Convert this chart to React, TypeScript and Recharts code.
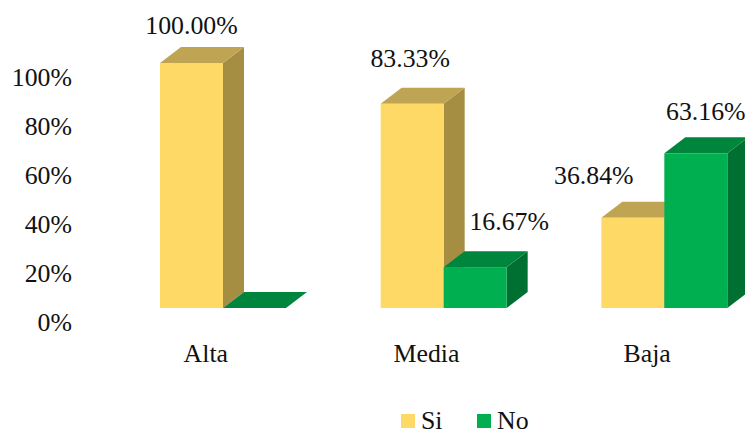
import React from 'react';
import { BarChart, Bar, XAxis, YAxis, LabelList, Legend } from 'recharts';

const categories = ['Alta', 'Media', 'Baja'];
const siValues = [100, 83.33, 36.84];
const noValues = [0, 16.67, 63.16];
const yTicks = [0, 20, 40, 60, 80, 100];

const chartData = categories.map((name, i) => ({ name, Si: siValues[i], No: noValues[i] }));

const FONT = '"Liberation Serif", serif';
const FONT_SIZE = 25.8;
const TEXT_COLOR = '#111111';
const DEPTH_X = 21;
const DEPTH_Y = 16;

const SI_COLORS = { front: '#FFD966', side: '#A58D42', top: '#BFA553' };
const NO_COLORS = { front: '#00B050', side: '#006F32', top: '#00863C' };

// hand placed data labels, offset from the top centre of each bar
const SI_LABEL_OFFSETS = [[0, -38], [-2, -45], [-39, -42]];
const NO_LABEL_OFFSETS = [[0, 0], [34, -46], [10, -42]];

const Box3D = ({ x, y, width, height, colors }: any) => {
  const right = x + width;
  const bottom = y + height;
  return (
    <g>
      <polygon
        points={`${right},${y} ${right + DEPTH_X},${y - DEPTH_Y} ${right + DEPTH_X},${bottom - DEPTH_Y} ${right},${bottom}`}
        fill={colors.side}
      />
      <polygon
        points={`${x},${y} ${x + DEPTH_X},${y - DEPTH_Y} ${right + DEPTH_X},${y - DEPTH_Y} ${right},${y}`}
        fill={colors.top}
      />
      <rect x={x} y={y} width={width} height={height} fill={colors.front} />
    </g>
  );
};

const barLabel = (offsets: number[][], hideZero: boolean) => (props: any) => {
  const { x, y, width, value, index } = props;
  if (hideZero && value === 0) return null;
  const [dx, dy] = offsets[index];
  return (
    <text
      x={x + width / 2 + dx}
      y={y + dy}
      textAnchor="middle"
      dominantBaseline="central"
      fontFamily={FONT}
      fontSize={FONT_SIZE}
      fill={TEXT_COLOR}
    >
      {`${Number(value).toFixed(2)}%`}
    </text>
  );
};

const YTick = ({ y, payload }: any) => (
  <text x={72} y={y + 14.5} textAnchor="end" dominantBaseline="central" fontFamily={FONT} fontSize={FONT_SIZE} fill={TEXT_COLOR}>
    {`${payload.value}%`}
  </text>
);

const XTick = ({ x, payload }: any) => (
  <text x={x - 17.5} y={353} textAnchor="middle" dominantBaseline="central" fontFamily={FONT} fontSize={FONT_SIZE} fill={TEXT_COLOR}>
    {payload.value}
  </text>
);

const LegendContent = () => (
  <div style={{ position: 'relative', width: 140, height: 25, fontFamily: FONT, fontSize: FONT_SIZE, color: TEXT_COLOR }}>
    <span style={{ position: 'absolute', left: 0, top: 7, width: 14, height: 14, background: SI_COLORS.front }} />
    <span style={{ position: 'absolute', left: 20, top: 2, lineHeight: '23px' }}>Si</span>
    <span style={{ position: 'absolute', left: 76, top: 7, width: 14, height: 14, background: NO_COLORS.front }} />
    <span style={{ position: 'absolute', left: 96, top: 2, lineHeight: '23px' }}>No</span>
  </div>
);

export default function App() {
  return (
    <div style={{ position: 'absolute', left: 0, top: 0, width: 745, height: 432, overflow: 'hidden', background: '#fff' }}>
      <BarChart
        width={790}
        height={432}
        data={chartData}
        margin={{ top: 63, right: 15, bottom: 39, left: 0 }}
        barGap={0}
        barSize={63}
      >
        <XAxis dataKey="name" axisLine={false} tickLine={false} height={60} tick={<XTick />} interval={0} />
        <YAxis width={113} domain={[0, 100]} ticks={yTicks} axisLine={false} tickLine={false} tick={<YTick />} />
        <Legend
          content={<LegendContent />}
          wrapperStyle={{ position: 'absolute', left: 401, top: 407, width: 140, height: 25 }}
        />
        <Bar dataKey="Si" isAnimationActive={false} shape={(p: any) => <Box3D {...p} colors={SI_COLORS} />}>
          <LabelList dataKey="Si" content={barLabel(SI_LABEL_OFFSETS, false)} />
        </Bar>
        <Bar dataKey="No" isAnimationActive={false} shape={(p: any) => <Box3D {...p} colors={NO_COLORS} />}>
          <LabelList dataKey="No" content={barLabel(NO_LABEL_OFFSETS, true)} />
        </Bar>
      </BarChart>
    </div>
  );
}
